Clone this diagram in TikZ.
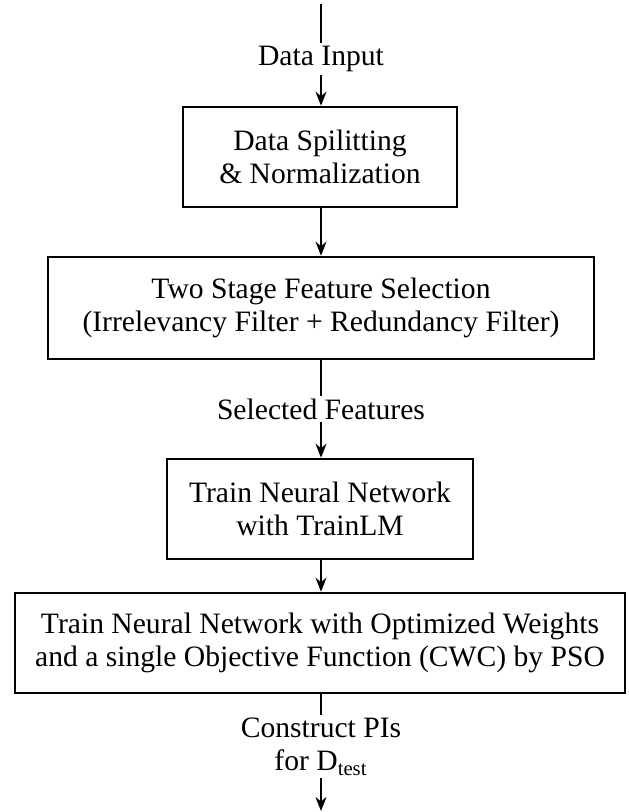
\documentclass[tikz,border=0pt]{standalone}
\usepackage{fontspec}
\setmainfont{Liberation Serif}
\usetikzlibrary{
	arrows.meta,
	calc,
}

\begin{document}
\begin{tikzpicture}[x=0.5pt,y=-0.5pt,
		stage/.style={draw, line width=1.3pt, align=center, inner sep=0pt,
			font=\fontsize{14.8}{16.5}\selectfont},
		flow/.style={line width=1pt, -{Stealth[length=7pt,width=5.5pt]}},
		lbl/.style={fill=white, inner sep=1.5pt, align=center,
			font=\fontsize{14.8}{16.5}\selectfont}]
				\useasboundingbox (0,0) rectangle (628,812);
				\coordinate (in) at (321,4);
				\coordinate (out) at (321,811);
				\node[stage, minimum width=137pt, minimum height=50pt] (split) at (320,157) {Data Spilitting\\ \& Normalization};
				\node[stage, minimum width=273pt, minimum height=51pt] (select) at (321,308) {Two Stage Feature Selection\\(Irrelevancy Filter + Redundancy Filter)};
				\node[stage, minimum width=153pt, minimum height=50pt] (lm) at (320,509) {Train Neural Network\\with TrainLM};
				\node[stage, minimum width=305pt, minimum height=50pt] (pso) at (320,643) {Train Neural Network with Optimized Weights\\and a single Objective Function (CWC) by PSO};
				\draw[flow] (in) -- node[lbl, yshift=-2pt] (input) {Data Input} (in |- split.north);
				\draw[flow] (in |- split.south) -- (in |- select.north);
				\draw[flow] (in |- select.south) -- node[lbl] (feat) {Selected Features} (in |- lm.north);
				\draw[flow] (in |- lm.south) -- (in |- pso.north);
				\draw[flow] (in |- pso.south) -- node[lbl, pos=0.45] (pis) {Construct PIs\\for D\textsubscript{test}} (out);
			\end{tikzpicture}
\end{document}
